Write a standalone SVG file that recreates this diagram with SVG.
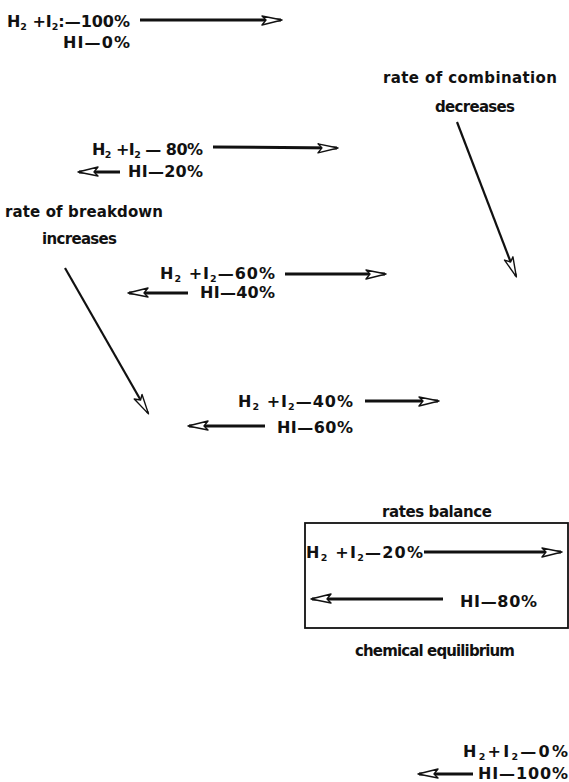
<svg xmlns="http://www.w3.org/2000/svg" width="569" height="782" viewBox="0 0 569 782">
<defs>
<style>
text{font-family:"DejaVu Sans","Liberation Sans",sans-serif;font-weight:bold;font-size:16px;fill:#111}
.lbl{font-size:15px}
.sub{font-size:9.5px}
.r{text-anchor:end}
.arr{stroke:#111;stroke-width:3;fill:none;marker-end:url(#ah)}
.thin{stroke:#111;stroke-width:2.2;fill:none;marker-end:url(#ah)}
</style>
<marker id="ah" markerUnits="userSpaceOnUse" markerWidth="24" markerHeight="12" refX="20" refY="5" orient="auto" viewBox="0 0 24 12">
<path d="M1,1 L21,5 L1,10 L5,5 Z" fill="#fff" stroke="#111" stroke-width="1.4" stroke-linejoin="round"/>
</marker>
</defs>
<rect width="569" height="782" fill="#fff"/>
<g id="connectors">
<line class="arr" x1="140" y1="20" x2="281" y2="20"/>
<line class="thin" x1="457" y1="122" x2="516" y2="276"/>
<line class="arr" x1="213" y1="147" x2="337" y2="148"/>
<line class="arr" x1="120" y1="172" x2="79" y2="172"/>
<line class="thin" x1="65" y1="268" x2="148" y2="413"/>
<line class="arr" x1="285" y1="274" x2="385" y2="274"/>
<line class="arr" x1="188" y1="293" x2="129" y2="293"/>
<line class="arr" x1="365" y1="401" x2="438" y2="401"/>
<line class="arr" x1="265" y1="426" x2="189" y2="426"/>
<line class="arr" x1="424" y1="552" x2="561" y2="552"/>
<line class="arr" x1="443" y1="599" x2="312" y2="599"/>
<line class="arr" x1="473" y1="774" x2="419" y2="774"/>
</g>
<g id="state-100">
<text class="r" x="130" y="27" textLength="123">H<tspan class="sub" dy="3">2</tspan><tspan dy="-3"> +I</tspan><tspan class="sub" dy="3">2</tspan><tspan dy="-3">:—100%</tspan></text>
<text class="r" x="130" y="48" textLength="67">HI—0%</text>
</g>
<g id="combination-label">
<text class="lbl" x="383" y="83" textLength="174">rate of combination</text>
<text class="lbl" x="435" y="112" textLength="80">decreases</text>
</g>
<g id="state-80">
<text class="r" x="203" y="155" textLength="111">H<tspan class="sub" dy="3">2</tspan><tspan dy="-3"> +I</tspan><tspan class="sub" dy="3">2</tspan><tspan dy="-3"> — 80%</tspan></text>
<text class="r" x="203" y="177" textLength="75">HI—20%</text>
</g>
<g id="breakdown-label">
<text class="lbl" x="5" y="217" textLength="158">rate of breakdown</text>
<text class="lbl" x="42" y="244" textLength="75">increases</text>
</g>
<g id="state-60">
<text class="r" x="275" y="279" textLength="115">H<tspan class="sub" dy="3">2</tspan><tspan dy="-3"> +I</tspan><tspan class="sub" dy="3">2</tspan><tspan dy="-3">—60%</tspan></text>
<text class="r" x="275" y="298" textLength="75">HI—40%</text>
</g>
<g id="state-40">
<text class="r" x="353" y="407" textLength="115">H<tspan class="sub" dy="3">2</tspan><tspan dy="-3"> +I</tspan><tspan class="sub" dy="3">2</tspan><tspan dy="-3">—40%</tspan></text>
<text class="r" x="353" y="433" textLength="76">HI—60%</text>
</g>
<g id="equilibrium">
<text class="lbl" x="382" y="517" textLength="110">rates balance</text>
<rect x="305" y="523" width="263" height="105" fill="none" stroke="#111" stroke-width="1.8"/>
<text class="r" x="423" y="558" textLength="117">H<tspan class="sub" dy="3">2</tspan><tspan dy="-3"> +I</tspan><tspan class="sub" dy="3">2</tspan><tspan dy="-3">—20%</tspan></text>
<text class="r" x="537" y="607" textLength="77">HI—80%</text>
<text class="lbl" x="355" y="656" textLength="160">chemical equilibrium</text>
</g>
<g id="state-0">
<text class="r" x="568" y="757" textLength="105">H<tspan class="sub" dy="3">2</tspan><tspan dy="-3">+I</tspan><tspan class="sub" dy="3">2</tspan><tspan dy="-3">—0%</tspan></text>
<text class="r" x="568" y="779" textLength="90">HI—100%</text>
</g>
</svg>
